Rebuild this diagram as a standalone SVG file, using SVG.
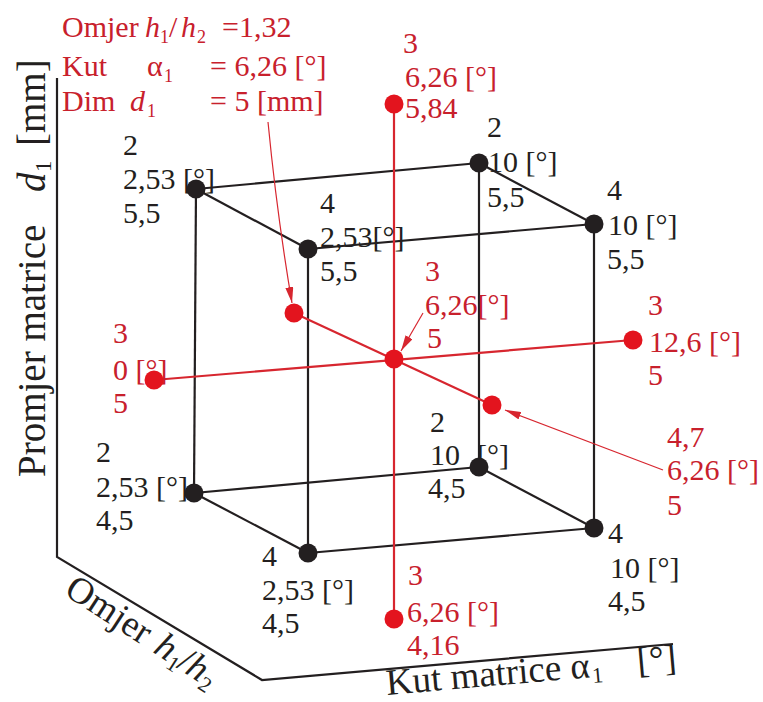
<svg xmlns="http://www.w3.org/2000/svg" width="763" height="702" viewBox="0 0 763 702">
<style>
text{font-family:"Liberation Serif","Times New Roman",serif;font-size:30px}
.k{fill:#231f20}
.r{fill:#c8202c}
.sub{font-size:18px}
.ax{font-size:39px;fill:#231f20}
.axs{font-size:23px;fill:#231f20}
.ax2{font-size:37px;fill:#231f20}
.axs2{font-size:22px;fill:#231f20}
.it{font-style:italic}
.edge{stroke:#231f20;stroke-width:2.2;fill:none}
.rl{stroke:#d7262f;stroke-width:2.2;fill:none}
.arr{stroke:#d7262f;stroke-width:1.2;fill:none;marker-end:url(#ah)}
.kd{fill:#231f20}
.rd{fill:#e3141e}
</style>
<defs>
<marker id="ah" markerUnits="userSpaceOnUse" markerWidth="16" markerHeight="8" refX="16" refY="4" orient="auto">
<path d="M0,0 L16,4 L0,8 z" fill="#d7262f"/>
</marker>
</defs>
<rect width="763" height="702" fill="#fff"/>

<g id="axes">
<polyline class="edge" points="57,78 57,557 262,680 673,644"/>
<g transform="translate(45,477) rotate(-90)">
<text class="ax" x="0" y="0">Promjer matrice</text>
<text class="ax it" x="285" y="0">d</text>
<text class="axs" x="305" y="6">1</text>
<text class="ax" x="331" y="0">[mm]</text>
</g>
<g transform="translate(63,594) rotate(33)">
<text class="ax2" x="0" y="0">Omjer</text>
<text class="ax2 it" x="106" y="0">h</text>
<text class="axs2" x="125" y="6">1</text>
<text class="ax2" x="134" y="0">/</text>
<text class="ax2 it" x="144" y="0">h</text>
<text class="axs2" x="163" y="6">2</text>
</g>
<g transform="translate(387,695) rotate(-5)">
<text class="ax2" x="0" y="0">Kut matrice α</text>
<text class="axs2" x="206" y="6">1</text>
<text class="ax2" x="252" y="0">[°]</text>
</g>
</g>

<g id="legend">
<text class="r" x="62" y="37">Omjer</text>
<text class="r it" x="145" y="37">h</text>
<text class="r sub" x="160" y="43">1</text>
<text class="r" x="169" y="37">/</text>
<text class="r it" x="181" y="37">h</text>
<text class="r sub" x="197" y="43">2</text>
<text class="r" x="222" y="37">=1,32</text>
<text class="r" x="62" y="76">Kut</text>
<text class="r" x="147" y="76">α</text>
<text class="r sub" x="164" y="82">1</text>
<text class="r" x="210" y="76">= 6,26 [°]</text>
<text class="r" x="62" y="111">Dim</text>
<text class="r it" x="130" y="111">d</text>
<text class="r sub" x="147" y="117">1</text>
<text class="r" x="210" y="111">= 5 [mm]</text>
</g>

<g id="connectors">
<line class="edge" x1="196" y1="189" x2="479" y2="163"/>
<line class="edge" x1="308" y1="249" x2="594" y2="224"/>
<line class="edge" x1="196" y1="189" x2="308" y2="249"/>
<line class="edge" x1="479" y1="163" x2="594" y2="224"/>
<line class="edge" x1="194" y1="493" x2="479" y2="467"/>
<line class="edge" x1="308" y1="553" x2="594" y2="528"/>
<line class="edge" x1="194" y1="493" x2="308" y2="553"/>
<line class="edge" x1="479" y1="467" x2="594" y2="528"/>
<line class="edge" x1="196" y1="189" x2="194" y2="493"/>
<line class="edge" x1="308" y1="249" x2="308" y2="553"/>
<line class="edge" x1="479" y1="163" x2="479" y2="467"/>
<line class="edge" x1="594" y1="224" x2="594" y2="528"/>
<line class="rl" x1="394" y1="104" x2="394" y2="619"/>
<line class="rl" x1="154" y1="380" x2="633" y2="340"/>
<line class="rl" x1="294" y1="313" x2="492" y2="405"/>
<path class="arr" d="M268,122 Q277,215 292,303"/>
<path class="arr" d="M663,470 L505,410"/>
<path class="arr" d="M423,313 L401,351"/>
</g>

<g id="n-2-253-55">
<circle class="kd" cx="196" cy="189" r="9.5"/>
<text class="k" x="123" y="155">2</text>
<text class="k" x="123" y="189">2,53 [°]</text>
<text class="k" x="123" y="223">5,5</text>
</g>
<g id="n-4-253-55">
<circle class="kd" cx="308" cy="249" r="9.5"/>
<text class="k" x="320" y="213">4</text>
<text class="k" x="320" y="247">2,53[°]</text>
<text class="k" x="320" y="281">5,5</text>
</g>
<g id="n-2-10-55">
<circle class="kd" cx="479" cy="163" r="9.5"/>
<text class="k" x="487" y="137">2</text>
<text class="k" x="488" y="172">10 [°]</text>
<text class="k" x="487" y="207">5,5</text>
</g>
<g id="n-4-10-55">
<circle class="kd" cx="594" cy="224" r="9.5"/>
<text class="k" x="607" y="200">4</text>
<text class="k" x="608" y="235">10 [°]</text>
<text class="k" x="607" y="269">5,5</text>
</g>
<g id="n-2-253-45">
<circle class="kd" cx="194" cy="493" r="9.5"/>
<text class="k" x="96" y="462">2</text>
<text class="k" x="96" y="497">2,53 [°]</text>
<text class="k" x="96" y="530">4,5</text>
</g>
<g id="n-4-253-45">
<circle class="kd" cx="308" cy="553" r="9.5"/>
<text class="k" x="262" y="566">4</text>
<text class="k" x="262" y="600">2,53 [°]</text>
<text class="k" x="262" y="633">4,5</text>
</g>
<g id="n-2-10-45">
<text class="k" x="430" y="432">2</text>
<text class="k" x="430" y="465">10</text>
<text class="k" x="477" y="465">[°]</text>
<circle class="kd" cx="479" cy="467" r="9.5"/>
<text class="k" x="428" y="498">4,5</text>
</g>
<g id="n-4-10-45">
<circle class="kd" cx="594" cy="528" r="9.5"/>
<text class="k" x="608" y="543">4</text>
<text class="k" x="610" y="578">10 [°]</text>
<text class="k" x="608" y="611">4,5</text>
</g>

<g id="r-top">
<circle class="rd" cx="394" cy="104" r="9.5"/>
<text class="r" x="403" y="53">3</text>
<text class="r" x="405" y="87">6,26 [°]</text>
<text class="r" x="405" y="118">5,84</text>
</g>
<g id="r-center">
<circle class="rd" cx="394" cy="359" r="9.5"/>
<text class="r" x="425" y="281">3</text>
<text class="r" x="425" y="315">6,26[°]</text>
<text class="r" x="427" y="348">5</text>
</g>
<g id="r-left">
<text class="r" x="113" y="343">3</text>
<text class="r" x="113" y="380">0 [°]</text>
<circle class="rd" cx="154" cy="380" r="9.5"/>
<text class="r" x="113" y="413">5</text>
</g>
<g id="r-right">
<circle class="rd" cx="633" cy="340" r="9.5"/>
<text class="r" x="648" y="315">3</text>
<text class="r" x="649" y="352">12,6 [°]</text>
<text class="r" x="648" y="385">5</text>
</g>
<g id="r-back">
<circle class="rd" cx="294" cy="313" r="9.5"/>
</g>
<g id="r-front">
<circle class="rd" cx="492" cy="405" r="9.5"/>
<text class="r" x="667" y="447">4,7</text>
<text class="r" x="667" y="480">6,26 [°]</text>
<text class="r" x="667" y="515">5</text>
</g>
<g id="r-bottom">
<circle class="rd" cx="394" cy="619" r="9.5"/>
<text class="r" x="408" y="585">3</text>
<text class="r" x="407" y="622">6,26 [°]</text>
<text class="r" x="407" y="655">4,16</text>
</g>
</svg>
